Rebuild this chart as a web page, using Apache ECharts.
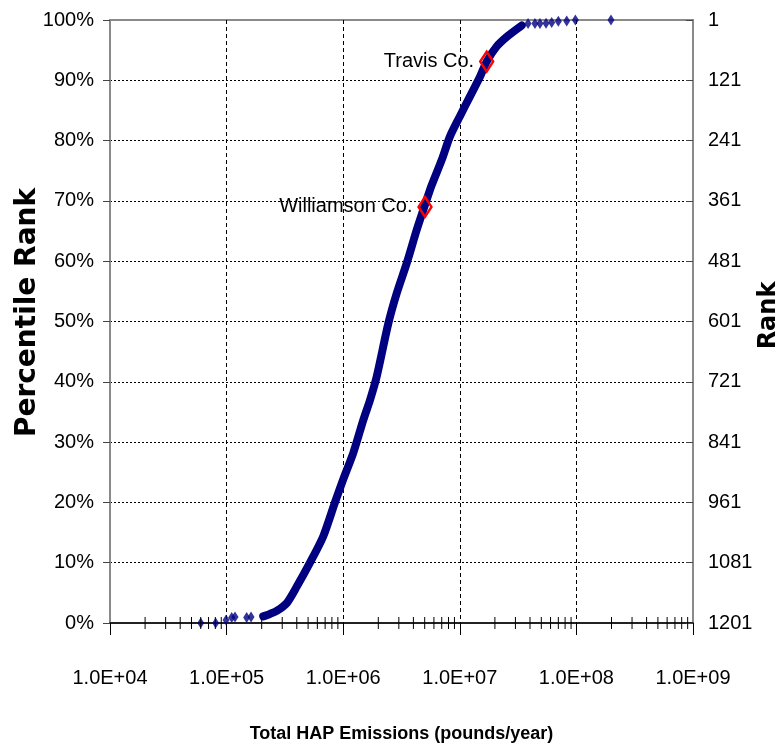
<!DOCTYPE html>
<html>
<head>
<meta charset="utf-8">
<script src="https://cdn.jsdelivr.net/npm/echarts@6/dist/echarts.min.js"></script>
<style>
html,body{margin:0;padding:0;background:#fff;}
#chart{width:782px;height:750px;}
</style>
</head>
<body>
<div id="chart"></div>
<script>
// ---- data ----
// continuous band of counties (emissions lb/yr, percentile %)
const bandEmissions = [2.06e5, 2.35e5, 2.69e5, 3.28e5, 3.99e5, 5.19e5, 6.75e5, 8.5e5, 1.0e6, 1.22e6, 1.49e6, 1.70e6, 1.94e6, 2.44e6, 2.88e6, 3.51e6, 4.27e6, 4.86e6, 5.74e6, 7.0e6, 8.24e6, 1.0e7, 1.22e7, 1.49e7, 1.70e7, 2.07e7, 2.6e7, 3.4e7];
const bandPercent   = [1.1,   1.5,    2.0,    3.3,    6.0,    10.0,   14.4,   20.0,  23.8,  28.2,   33.7,   37.0,   40.9,   49.7,   54.7,   59.7,   65.2,   68.5,   72.6,   76.8,  80.7,   84.0,  87.3,   90.6,   93.1,   95.6,   97.4,  99.1];
// isolated counties in the tails
const tailEmissions = [6.0e4, 8.06e4, 9.9e4, 1.106e5, 1.18e5, 1.486e5, 1.62e5, 3.85e7, 4.41e7, 4.87e7, 5.49e7, 6.14e7, 7.0e7, 8.26e7, 9.8e7, 1.98e8];
const tailPercent   = [0.0,   0.0,    0.5,   0.9,     1.0,    0.9,     1.0,    99.4,   99.4,   99.4,   99.45,  99.6,   99.8,  99.85,  100,   100];
// highlighted counties
const countyNames     = ['Williamson Co.', 'Travis Co.'];
const countyEmissions = [5.03e6, 1.70e7];
const countyPercent   = [69.0, 93.1];
// axes
const xDecades = [4, 5, 6, 7, 8, 9];
const minorMultipliers = [2, 3, 4, 5, 6, 7, 8, 9];
const totalRanks = 1201;

// ---- fonts ----
function fontAvailable(name){
  const ctx = document.createElement('canvas').getContext('2d');
  const s = '1.0E+04 Percentile WWWiii';
  ctx.font = '40px monospace'; const a = ctx.measureText(s).width;
  ctx.font = "40px '" + name + "', monospace"; const b = ctx.measureText(s).width;
  return a !== b;
}
const NARROW = fontAvailable('Liberation Sans Narrow');
const FF = NARROW ? "'Liberation Sans Narrow', 'Liberation Sans', Arial" : "'Liberation Sans', Arial";
const FS = NARROW ? 22 : 20;
const FT = NARROW ? 22 : 18;

const zip = (a, b) => a.map((v, i) => [v, b[i]]);
const minorTicks = [];
xDecades.slice(0, -1).forEach(d => minorMultipliers.forEach(m => minorTicks.push([m * Math.pow(10, d), 0])));

const navy = '#000080';
const chart = echarts.init(document.getElementById('chart'), null, {renderer: 'canvas'});
chart.setOption({
  animation: false,
  backgroundColor: '#fff',
  grid: {left: 110, right: 89, top: 20, bottom: 127, outerBoundsMode: 'none', containLabel: false,
    show: true, borderColor: '#8a8a8a', borderWidth: 2, backgroundColor: 'transparent'},
  xAxis: {
    type: 'log', logBase: 10, min: 1e4, max: 1e9,
    name: 'Total HAP Emissions (pounds/year)', nameLocation: 'middle', nameGap: 102, nameMoveOverlap: false,
    nameTextStyle: {fontFamily: FF, fontSize: FT, fontWeight: 'bold', color: '#000'},
    axisLine: {lineStyle: {color: '#000', width: 1.5}},
    axisTick: {show: true, length: 12, lineStyle: {color: '#000', width: 1}},
    axisLabel: {margin: 45, fontFamily: FF, fontSize: FS, color: '#000',
      formatter: v => '1.0E+' + String(Math.round(Math.log10(v))).padStart(2, '0')},
    splitLine: {show: true, showMinLine: false, showMaxLine: false, lineStyle: {color: '#000', type: [4, 3], width: 1}},
    minorTick: {show: false}
  },
  yAxis: [{
    type: 'value', min: 0, max: 100, interval: 10, position: 'left',
    name: 'Percentile Rank', nameLocation: 'middle', nameRotate: 90, nameGap: 68, nameMoveOverlap: false,
    nameTextStyle: {fontFamily: "'DejaVu Sans', Verdana, sans-serif", fontSize: 28, fontWeight: 'bold', color: '#000', padding: [0, 0, 0, 18]},
    axisLine: {show: true, lineStyle: {color: '#8a8a8a', width: 2}},
    axisTick: {show: true, length: 7, inside: false, lineStyle: {color: '#444'}},
    axisLabel: {margin: 16, fontFamily: FF, fontSize: FS, color: '#000', formatter: '{value}%'},
    splitLine: {show: true, showMinLine: false, showMaxLine: false, lineStyle: {color: '#000', type: [2, 2], width: 1}}
  }, {
    type: 'value', min: 0, max: 100, interval: 10, position: 'right',
    name: 'Rank', nameLocation: 'middle', nameRotate: 90, nameGap: 64, nameMoveOverlap: false,
    nameTextStyle: {fontFamily: "'DejaVu Sans', Verdana, sans-serif", fontSize: 24, fontWeight: 'bold', color: '#000', padding: [0, 0, 0, 12]},
    axisLine: {show: true, lineStyle: {color: '#8a8a8a', width: 2}},
    axisTick: {show: true, length: 7, inside: true, lineStyle: {color: '#444'}},
    axisLabel: {margin: 15, fontFamily: FF, fontSize: FS, color: '#000',
      formatter: v => String(1 + Math.round((100 - v) / 100 * (totalRanks - 1)))},
    splitLine: {show: false}
  }],
  series: [{
    type: 'custom', name: 'minor ticks', silent: true, clip: false, z: 5,
    data: minorTicks,
    renderItem: (params, api) => {
      const p = api.coord([api.value(0), api.value(1)]);
      return {type: 'line', shape: {x1: p[0], y1: p[1] - 6, x2: p[0], y2: p[1] + 6},
        style: {stroke: '#000', lineWidth: 1}};
    }
  }, {
    type: 'line', name: 'Counties', data: zip(bandEmissions, bandPercent),
    showSymbol: false, smooth: 0.25, silent: true, z: 3,
    lineStyle: {color: navy, width: 8, cap: 'round', join: 'round'}
  }, {
    type: 'scatter', name: 'Counties tail', data: zip(tailEmissions, tailPercent),
    symbol: 'diamond', symbolSize: [7, 11], silent: true, z: 3,
    itemStyle: {color: navy}
  }, {
    type: 'scatter', name: 'Highlighted', z: 6,
    data: countyNames.map((n, i) => ({name: n, value: [countyEmissions[i], countyPercent[i]]})),
    symbol: 'diamond', symbolSize: [13, 20],
    itemStyle: {color: 'rgba(0,0,0,0)', borderColor: '#ff0000', borderWidth: 2.5, opacity: 1},
    label: {show: true, position: 'left', distance: 5, formatter: '{b}', fontFamily: FF, fontSize: FS, color: '#000', opacity: 1}
  }]
});
</script>
</body>
</html>
